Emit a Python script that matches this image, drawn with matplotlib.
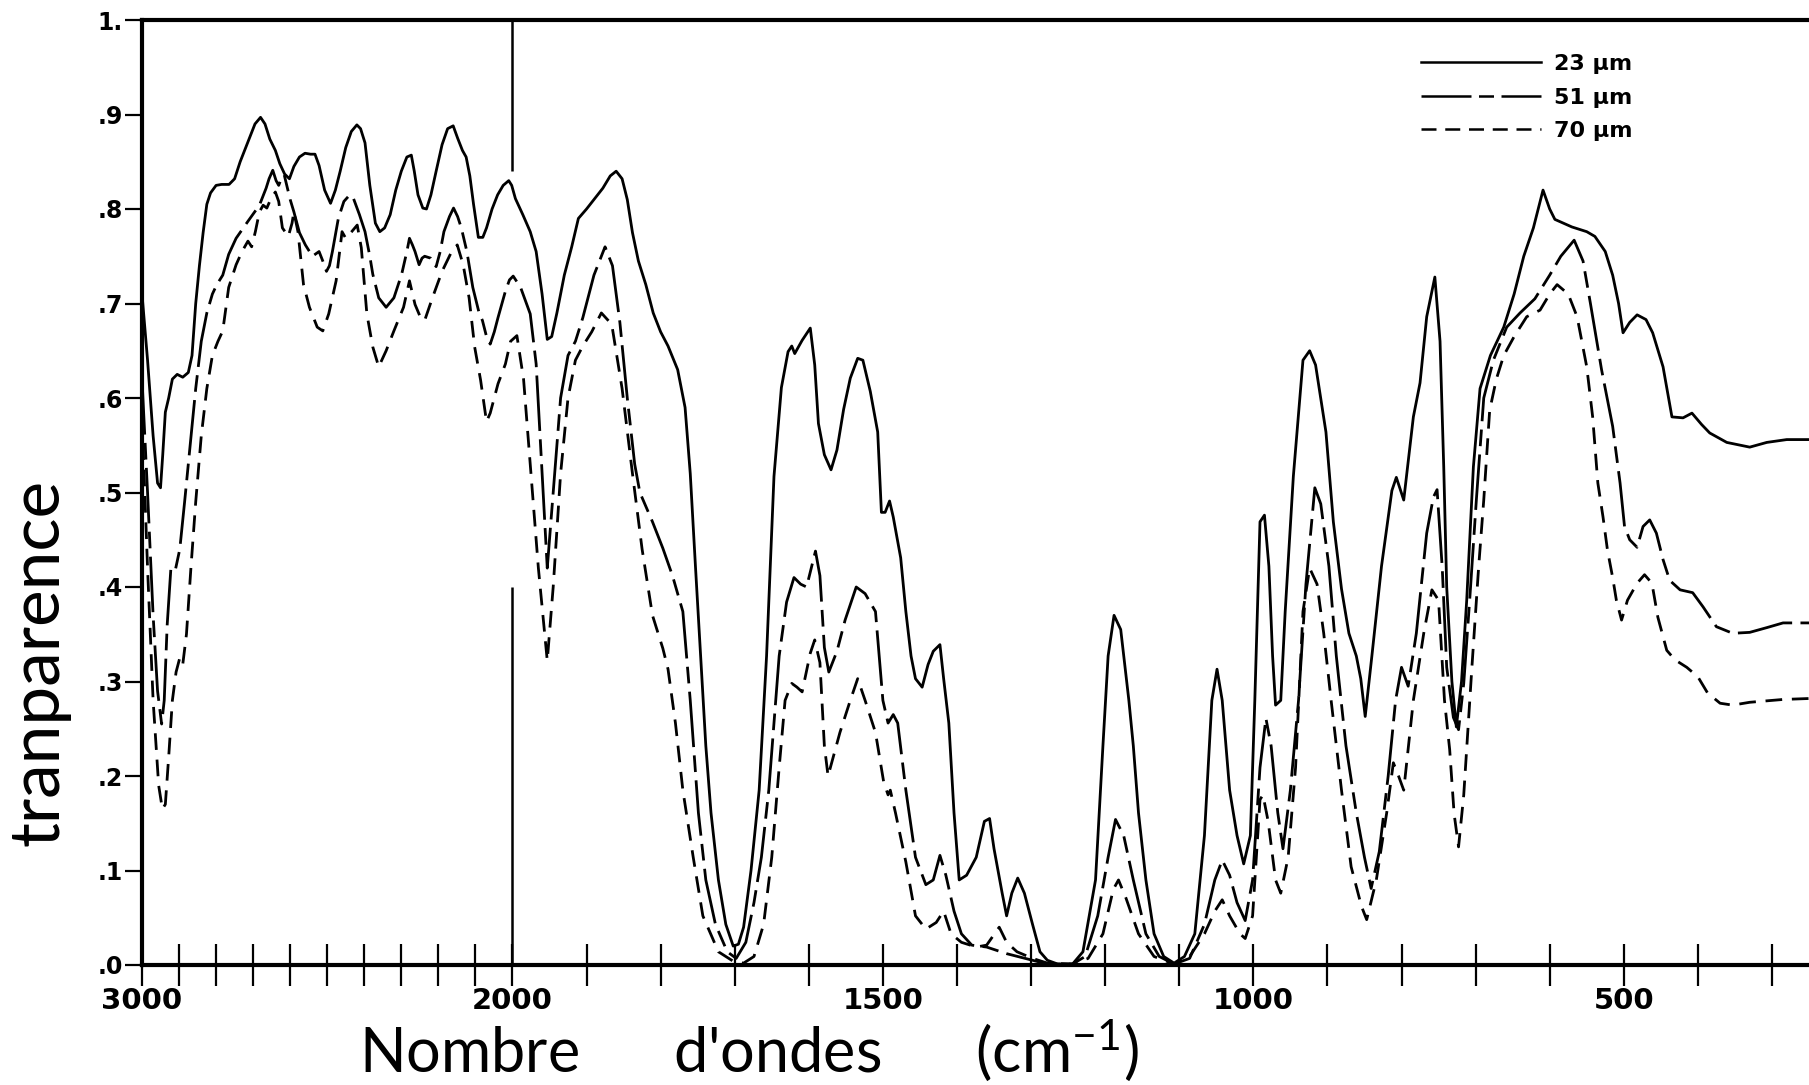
import numpy as np
import matplotlib
matplotlib.use("Agg")
import matplotlib.pyplot as plt
from matplotlib.ticker import FixedLocator, FixedFormatter

plt.rcParams["mathtext.fontset"] = "custom"
plt.rcParams["mathtext.rm"] = "Lato"
plt.rcParams["mathtext.default"] = "rm"

# spectre IR - transparence en fonction du nombre d'ondes, 3 epaisseurs
wn_23 = [3000, 2985, 2970, 2958, 2950, 2944, 2937, 2928, 2918, 2905, 2890, 2875, 2865, 2855, 2845,
         2835, 2825, 2815, 2800, 2785, 2765, 2750, 2735, 2715, 2695, 2680, 2668, 2655, 2640, 2628,
         2615, 2602, 2590, 2575, 2560, 2545, 2533, 2522, 2507, 2491, 2478, 2465, 2450, 2435, 2420,
         2410, 2398, 2385, 2370, 2358, 2345, 2330, 2315, 2300, 2285, 2273, 2265, 2255, 2242, 2232,
         2220, 2206, 2190, 2175, 2160, 2148, 2135, 2125, 2115, 2105, 2092, 2080, 2070, 2055, 2040,
         2025, 2010, 2002, 1996, 1986, 1976, 1968, 1960, 1953, 1947, 1940, 1930, 1920, 1911, 1900,
         1890, 1878, 1868, 1860, 1852, 1845, 1838, 1830, 1820, 1810, 1800, 1790, 1777, 1767, 1760,
         1753, 1746, 1739, 1732, 1722, 1712, 1702, 1695, 1688, 1678, 1667, 1657, 1647, 1637, 1628,
         1623, 1619, 1609, 1598, 1592, 1587, 1579, 1570, 1562, 1553, 1544, 1534, 1527, 1517, 1507,
         1502, 1497, 1491, 1486, 1476, 1469, 1462, 1456, 1447, 1439, 1432, 1423, 1418, 1411, 1404,
         1397, 1387, 1374, 1363, 1356, 1350, 1339, 1333, 1326, 1318, 1309, 1298, 1288, 1278, 1264,
         1244, 1230, 1213, 1203, 1196, 1188, 1179, 1168, 1162, 1155, 1145, 1134, 1121, 1107, 1093,
         1079, 1066, 1056, 1049, 1042, 1032, 1022, 1013, 1004, 998, 991, 985, 979, 974, 970,
         963, 957, 946, 933, 924, 916, 902, 892, 881, 871, 861, 855, 849, 840, 827,
         813, 807, 797, 784, 775, 766, 755, 748, 743, 739, 732, 726, 719, 712, 703,
         694, 680, 662, 648, 635, 622, 609, 600, 593, 570, 550, 539, 525, 515, 507,
         501, 492, 482, 470, 461, 447, 435, 420, 408, 395, 384, 361, 330, 307, 280, 250]
t_23 = [0.71, 0.64, 0.56, 0.51, 0.505, 0.54, 0.585, 0.60, 0.62, 0.625, 0.622, 0.627, 0.645, 0.70, 0.74,
        0.775, 0.805, 0.817, 0.825, 0.826, 0.826, 0.832, 0.85, 0.87, 0.89, 0.897, 0.89, 0.874, 0.862, 0.848,
        0.837, 0.832, 0.845, 0.855, 0.859, 0.858, 0.858, 0.846, 0.82, 0.806, 0.82, 0.84, 0.865, 0.882, 0.889,
        0.885, 0.87, 0.825, 0.785, 0.776, 0.78, 0.794, 0.82, 0.84, 0.855, 0.857, 0.84, 0.815, 0.801, 0.80,
        0.815, 0.84, 0.868, 0.885, 0.888, 0.875, 0.862, 0.855, 0.835, 0.805, 0.77, 0.77, 0.78, 0.80, 0.815,
        0.825, 0.83, 0.825, 0.811, 0.794, 0.776, 0.755, 0.71, 0.662, 0.665, 0.69, 0.73, 0.76, 0.79, 0.80,
        0.81, 0.822, 0.835, 0.84, 0.832, 0.81, 0.775, 0.745, 0.72, 0.69, 0.67, 0.655, 0.63, 0.59, 0.52,
        0.422, 0.327, 0.232, 0.161, 0.09, 0.043, 0.02, 0.022, 0.04, 0.10, 0.185, 0.327, 0.517, 0.611, 0.649,
        0.655, 0.647, 0.661, 0.674, 0.635, 0.573, 0.540, 0.524, 0.545, 0.588, 0.621, 0.642, 0.640, 0.607, 0.564,
        0.479, 0.479, 0.491, 0.474, 0.431, 0.374, 0.327, 0.303, 0.294, 0.318, 0.332, 0.339, 0.303, 0.256, 0.161,
        0.090, 0.095, 0.114, 0.152, 0.155, 0.123, 0.076, 0.052, 0.076, 0.092, 0.076, 0.043, 0.014, 0.005, 0.001,
        0.001, 0.014, 0.090, 0.232, 0.327, 0.370, 0.355, 0.280, 0.232, 0.161, 0.090, 0.033, 0.009, 0.002, 0.009,
        0.033, 0.137, 0.280, 0.313, 0.280, 0.185, 0.137, 0.107, 0.137, 0.280, 0.469, 0.476, 0.422, 0.327, 0.275,
        0.280, 0.374, 0.517, 0.640, 0.650, 0.635, 0.564, 0.469, 0.398, 0.351, 0.327, 0.303, 0.263, 0.327, 0.422,
        0.502, 0.516, 0.492, 0.58, 0.616, 0.686, 0.728, 0.66, 0.527, 0.40, 0.30, 0.252, 0.30, 0.386, 0.527,
        0.610, 0.645, 0.675, 0.71, 0.75, 0.78, 0.82, 0.80, 0.789, 0.781, 0.776, 0.771, 0.755, 0.73, 0.70,
        0.669, 0.68, 0.688, 0.683, 0.669, 0.633, 0.580, 0.579, 0.584, 0.572, 0.563, 0.553, 0.548, 0.553, 0.556, 0.556]

wn_51 = [3000, 2985, 2970, 2958, 2947, 2940, 2932, 2922, 2910, 2898, 2885, 2870, 2855, 2840, 2825,
         2810, 2798, 2782, 2766, 2746, 2714, 2683, 2665, 2657, 2647, 2638, 2631, 2622, 2616, 2600,
         2590, 2575, 2559, 2540, 2533, 2522, 2512, 2502, 2494, 2486, 2470, 2455, 2439, 2429, 2413,
         2398, 2385, 2377, 2361, 2341, 2320, 2299, 2285, 2278, 2270, 2263, 2252, 2244, 2237, 2221,
         2206, 2195, 2185, 2170, 2159, 2148, 2138, 2123, 2107, 2090, 2081, 2070, 2060, 2049, 2039,
         2019, 2008, 1999, 1989, 1976, 1968, 1960, 1953, 1945, 1935, 1925, 1915, 1905, 1890, 1875,
         1865, 1855, 1845, 1835, 1828, 1811, 1797, 1784, 1770, 1760, 1749, 1739, 1726, 1710, 1698,
         1685, 1674, 1664, 1654, 1640, 1630, 1620, 1611, 1603, 1591, 1585, 1579, 1573, 1562, 1551,
         1536, 1524, 1510, 1500, 1493, 1486, 1480, 1469, 1456, 1442, 1432, 1423, 1415, 1404, 1394,
         1380, 1360, 1333, 1298, 1278, 1244, 1227, 1210, 1196, 1186, 1175, 1162, 1145, 1127, 1107,
         1086, 1066, 1052, 1042, 1032, 1022, 1011, 1001, 991, 983, 976, 967, 960, 950, 939,
         929, 917, 909, 898, 888, 875, 861, 850, 841, 830, 818, 808, 800, 791, 780,
         766, 757, 752, 745, 739, 730, 723, 716, 708, 699, 689, 676, 658, 640, 620,
         600, 585, 567, 555, 545, 530, 515, 505, 499, 492, 482, 474, 465, 456, 447,
         438, 424, 407, 393, 375, 353, 330, 307, 285, 250]
t_51 = [0.62, 0.50, 0.37, 0.29, 0.255, 0.28, 0.36, 0.42, 0.418, 0.44, 0.49, 0.55, 0.61, 0.66, 0.69,
        0.71, 0.72, 0.73, 0.752, 0.769, 0.787, 0.804, 0.822, 0.832, 0.841, 0.83, 0.825, 0.834, 0.836, 0.81,
        0.797, 0.775, 0.762, 0.75, 0.752, 0.755, 0.745, 0.734, 0.74, 0.755, 0.790, 0.808, 0.815, 0.811, 0.794,
        0.776, 0.75, 0.731, 0.706, 0.696, 0.706, 0.731, 0.755, 0.769, 0.762, 0.755, 0.741, 0.748, 0.750, 0.748,
        0.739, 0.755, 0.776, 0.792, 0.801, 0.792, 0.780, 0.755, 0.717, 0.69, 0.682, 0.665, 0.657, 0.67, 0.685,
        0.713, 0.725, 0.729, 0.717, 0.689, 0.636, 0.52, 0.42, 0.50, 0.60, 0.645, 0.66, 0.685, 0.73, 0.76,
        0.74, 0.68, 0.60, 0.53, 0.50, 0.469, 0.441, 0.412, 0.374, 0.28, 0.161, 0.09, 0.043, 0.014, 0.007,
        0.024, 0.066, 0.114, 0.185, 0.327, 0.384, 0.41, 0.403, 0.40, 0.438, 0.412, 0.336, 0.31, 0.332, 0.365,
        0.40, 0.393, 0.374, 0.28, 0.256, 0.265, 0.256, 0.185, 0.114, 0.085, 0.09, 0.116, 0.095, 0.057, 0.033,
        0.021, 0.019, 0.012, 0.005, 0.001, 0.001, 0.009, 0.052, 0.114, 0.154, 0.137, 0.09, 0.033, 0.009, 0.001,
        0.007, 0.043, 0.09, 0.111, 0.095, 0.066, 0.047, 0.09, 0.209, 0.261, 0.232, 0.161, 0.123, 0.185, 0.28,
        0.403, 0.505, 0.488, 0.422, 0.327, 0.232, 0.161, 0.114, 0.081, 0.12, 0.20, 0.28, 0.315, 0.295, 0.351,
        0.457, 0.495, 0.503, 0.42, 0.315, 0.262, 0.249, 0.298, 0.386, 0.492, 0.60, 0.64, 0.675, 0.69, 0.705,
        0.73, 0.75, 0.767, 0.745, 0.70, 0.63, 0.57, 0.51, 0.464, 0.45, 0.442, 0.464, 0.471, 0.457, 0.429,
        0.407, 0.397, 0.394, 0.379, 0.358, 0.351, 0.352, 0.357, 0.362, 0.362]

wn_70 = [3000, 2985, 2970, 2955, 2945, 2937, 2928, 2918, 2908, 2898, 2890, 2880, 2868, 2855, 2840,
         2825, 2810, 2795, 2782, 2766, 2746, 2730, 2714, 2704, 2694, 2683, 2673, 2663, 2652, 2640,
         2631, 2621, 2605, 2595, 2590, 2579, 2564, 2548, 2527, 2512, 2496, 2476, 2460, 2450, 2434,
         2419, 2408, 2393, 2377, 2361, 2341, 2320, 2294, 2278, 2263, 2248, 2237, 2216, 2190, 2164,
         2149, 2133, 2117, 2102, 2086, 2070, 2060, 2039, 2019, 2005, 1994, 1985, 1975, 1965, 1953,
         1945, 1935, 1925, 1915, 1905, 1893, 1880, 1866, 1852, 1838, 1825, 1811, 1797, 1790, 1780,
         1770, 1756, 1743, 1722, 1702, 1688, 1674, 1661, 1650, 1640, 1632, 1623, 1616, 1609, 1598,
         1592, 1585, 1579, 1574, 1558, 1544, 1534, 1524, 1510, 1499, 1493, 1490, 1483, 1469, 1456,
         1442, 1428, 1418, 1408, 1394, 1374, 1360, 1343, 1333, 1319, 1298, 1278, 1244, 1223, 1203,
         1189, 1182, 1172, 1155, 1134, 1107, 1086, 1066, 1052, 1042, 1032, 1018, 1011, 1001, 991,
         987, 980, 970, 963, 953, 943, 933, 924, 914, 905, 895, 881, 868, 854, 847,
         834, 820, 811, 804, 797, 784, 770, 759, 750, 742, 735, 729, 723, 716, 705,
         696, 689, 681, 672, 662, 648, 631, 613, 600, 590, 575, 563, 550, 542, 535,
         528, 522, 515, 510, 503, 495, 482, 472, 462, 454, 442, 431, 415, 400, 387,
         370, 353, 330, 285, 250]
t_70 = [0.58, 0.42, 0.28, 0.19, 0.165, 0.17, 0.22, 0.28, 0.31, 0.325, 0.318, 0.35, 0.42, 0.49, 0.56,
        0.61, 0.645, 0.66, 0.671, 0.717, 0.741, 0.755, 0.766, 0.760, 0.776, 0.797, 0.804, 0.801, 0.811, 0.818,
        0.808, 0.780, 0.771, 0.785, 0.797, 0.776, 0.720, 0.696, 0.675, 0.671, 0.689, 0.724, 0.776, 0.769, 0.776,
        0.783, 0.759, 0.689, 0.654, 0.633, 0.650, 0.671, 0.696, 0.724, 0.699, 0.685, 0.682, 0.706, 0.734, 0.755,
        0.762, 0.741, 0.706, 0.654, 0.619, 0.575, 0.584, 0.615, 0.636, 0.66, 0.666, 0.62, 0.52, 0.42, 0.322,
        0.40, 0.52, 0.60, 0.64, 0.655, 0.67, 0.69, 0.678, 0.61, 0.52, 0.44, 0.37, 0.335, 0.313, 0.256,
        0.185, 0.114, 0.052, 0.014, 0.004, 0.002, 0.009, 0.043, 0.114, 0.209, 0.28, 0.298, 0.294, 0.289, 0.33,
        0.344, 0.32, 0.232, 0.20, 0.246, 0.28, 0.303, 0.28, 0.246, 0.194, 0.18, 0.185, 0.161, 0.109, 0.052,
        0.038, 0.045, 0.057, 0.033, 0.024, 0.019, 0.021, 0.04, 0.024, 0.014, 0.007, 0.002, 0.001, 0.007, 0.033,
        0.08, 0.09, 0.071, 0.033, 0.009, 0.001, 0.009, 0.033, 0.057, 0.069, 0.052, 0.033, 0.028, 0.052, 0.175,
        0.18, 0.152, 0.09, 0.076, 0.114, 0.209, 0.374, 0.42, 0.403, 0.351, 0.28, 0.185, 0.104, 0.062, 0.048,
        0.09, 0.161, 0.214, 0.20, 0.185, 0.28, 0.351, 0.397, 0.386, 0.28, 0.228, 0.16, 0.125, 0.18, 0.315,
        0.42, 0.492, 0.587, 0.62, 0.645, 0.665, 0.686, 0.693, 0.71, 0.72, 0.71, 0.686, 0.633, 0.58, 0.51,
        0.474, 0.439, 0.41, 0.386, 0.365, 0.386, 0.404, 0.413, 0.404, 0.368, 0.333, 0.323, 0.315, 0.305, 0.288,
        0.277, 0.275, 0.278, 0.281, 0.282]

labels = ["23 \u03bcm", "51 \u03bcm", "70 \u03bcm"]
xtick_pos = list(range(3000, 299, -100))
xtick_txt = {3000: "3000", 2000: "2000", 1500: "1500", 1000: "1000", 500: "500"}
ytick_pos = [i / 10 for i in range(11)]
ytick_txt = [".0", ".1", ".2", ".3", ".4", ".5", ".6", ".7", ".8", ".9", "1."]


# echelle dilatee au-dessus de 2000 cm-1 (moitie)
def fwd(w):
    w = np.asarray(w, dtype=float)
    return np.where(w <= 2000, w, 2000 + (w - 2000) / 2)


def inv(u):
    u = np.asarray(u, dtype=float)
    return np.where(u <= 2000, u, 2000 + (u - 2000) * 2)


fig = plt.figure(figsize=(18.09, 10.85), dpi=100)
ax = fig.add_axes([142 / 1809, 120 / 1085, 1667 / 1809, 945 / 1085])
ax.set_xscale("function", functions=(fwd, inv))

lw = 2.0
ax.plot(wn_23, t_23, color="black", lw=lw, label=labels[0])
ax.plot(wn_51, t_51, color="black", lw=lw, linestyle=(0, (20, 3, 6, 3)), label=labels[1])
ax.plot(wn_70, t_70, color="black", lw=lw, linestyle=(0, (6, 3.5)), label=labels[2])

# trait de changement d'echelle a 2000
ax.vlines(2000, 0, 0.40, color="black", lw=1.8)
ax.vlines(2000, 0.84, 1.0, color="black", lw=1.8)

ax.set_xlim(3000, 250)
ax.set_ylim(0, 1.0)

ax.xaxis.set_major_locator(FixedLocator(xtick_pos))
ax.xaxis.set_major_formatter(FixedFormatter([xtick_txt.get(p, "") for p in xtick_pos]))
ax.yaxis.set_major_locator(FixedLocator(ytick_pos))
ax.yaxis.set_major_formatter(FixedFormatter(ytick_txt))
ax.xaxis.set_minor_locator(FixedLocator([]))

ax.tick_params(axis="x", direction="inout", length=30, width=1.6, pad=1, labelsize=21)
ax.tick_params(axis="y", direction="out", length=12, width=1.6, pad=2, labelsize=17)
for lab in ax.get_xticklabels() + ax.get_yticklabels():
    lab.set_fontweight("bold")

ax.spines["right"].set_visible(False)
for side in ["left", "bottom", "top"]:
    ax.spines[side].set_linewidth(3.0)

ax.set_ylabel("tranparence", fontsize=50, rotation=90,
              family=["Lato", "DejaVu Sans"], fontweight="normal")
ax.yaxis.set_label_coords(-0.043, 0.32)
ax.set_xlabel("Nombre      d'ondes      (cm$^{-1}$)", fontsize=44,
              family=["Lato", "DejaVu Sans"], fontweight="normal")
ax.xaxis.set_label_coords(0.364, -0.056)

leg = ax.legend(loc="upper left", bbox_to_anchor=(0.755, 0.985), frameon=False,
                handlelength=5.4, handletextpad=0.6, labelspacing=0.6,
                prop={"size": 16, "weight": "bold"})
for h in leg.get_lines():
    h.set_linewidth(1.8)

fig.savefig("out.png", dpi=100, facecolor="white")
